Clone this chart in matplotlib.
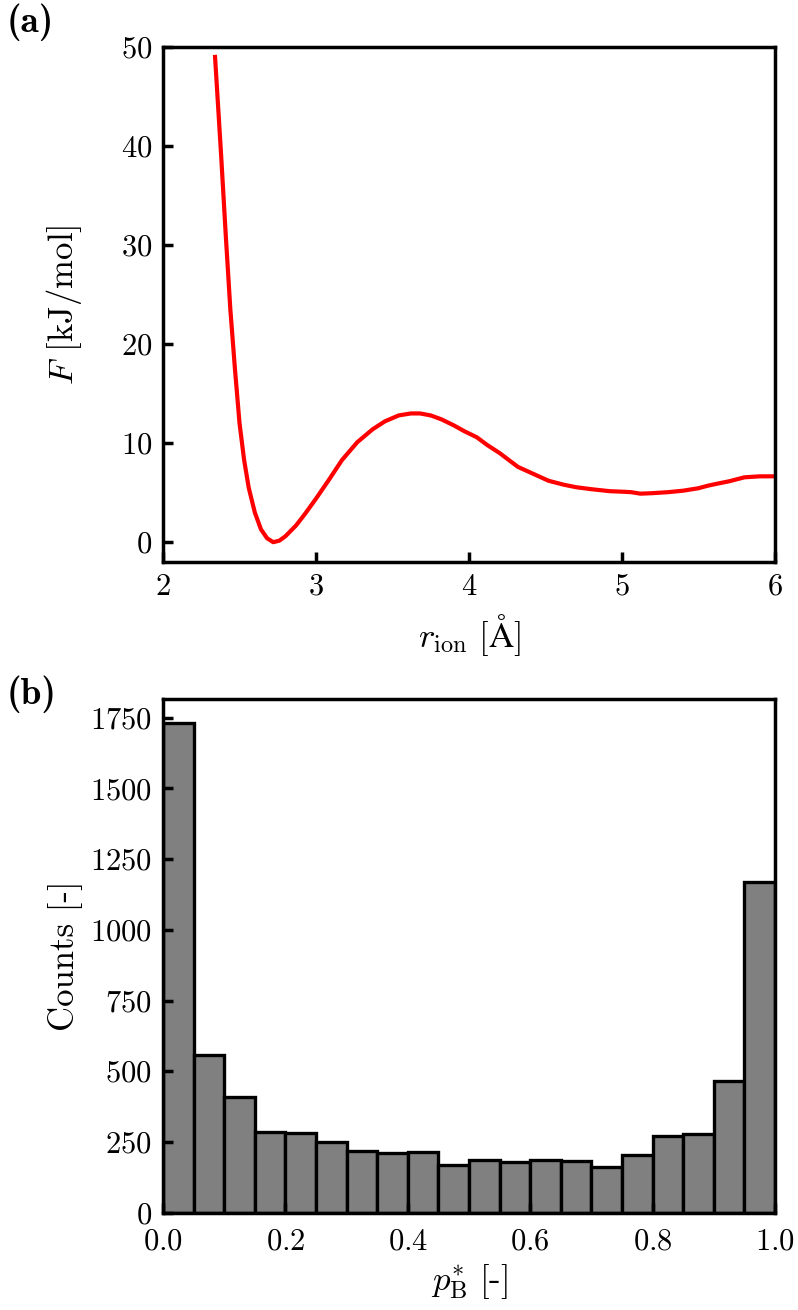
import matplotlib
matplotlib.use("Agg")
import matplotlib.pyplot as plt
import numpy as np

# free energy profile (panel a)
r_ion = [2.34, 2.36, 2.38, 2.41, 2.44, 2.47, 2.50, 2.53, 2.56, 2.60, 2.64, 2.68,
         2.72, 2.76, 2.80, 2.87, 2.93, 3.00, 3.08, 3.17, 3.27, 3.37, 3.45, 3.54,
         3.62, 3.68, 3.75, 3.82, 3.90, 3.97, 4.05, 4.12, 4.20, 4.32, 4.42, 4.52,
         4.62, 4.70, 4.80, 4.92, 5.00, 5.06, 5.12, 5.20, 5.30, 5.40, 5.50, 5.56,
         5.62, 5.70, 5.80, 5.90, 6.00]
free_energy = [49.0, 44.0, 39.0, 31.0, 23.5, 17.5, 12.0, 8.3, 5.5, 3.0, 1.3, 0.4,
               0.0, 0.15, 0.6, 1.7, 2.9, 4.4, 6.2, 8.3, 10.1, 11.4, 12.2, 12.8,
               13.0, 13.0, 12.8, 12.4, 11.8, 11.2, 10.6, 9.8, 9.0, 7.6, 6.9, 6.2,
               5.8, 5.55, 5.35, 5.15, 5.1, 5.05, 4.9, 4.95, 5.05, 5.2, 5.45, 5.7,
               5.9, 6.15, 6.55, 6.65, 6.65]

# committor histogram (panel b)
bin_edges = np.linspace(0.0, 1.0, 21)
counts = [1730, 558, 410, 285, 280, 250, 216, 212, 215, 168,
          186, 180, 185, 184, 160, 203, 272, 278, 467, 1170]

plt.rcParams['font.family'] = 'serif'
plt.rcParams['font.serif'] = ['cmr10']
plt.rcParams['mathtext.fontset'] = 'cm'
plt.rcParams['axes.formatter.use_mathtext'] = True
plt.rcParams['axes.unicode_minus'] = False

fig = plt.figure(figsize=(7.98, 13.10), dpi=100)
ax1 = fig.add_axes([0.2043, 0.571, 0.7669, 0.3931])
ax2 = fig.add_axes([0.2043, 0.0744, 0.7669, 0.392])

lw = 2.5
for ax in (ax1, ax2):
    for s in ax.spines.values():
        s.set_linewidth(lw)
    ax.tick_params(direction='in', length=7.5, width=lw, labelsize=22, pad=8)
ax2.tick_params(axis='x', pad=11)

ax1.plot(r_ion, free_energy, color='red', lw=3.0)
ax1.set_xlim(2, 6)
ax1.set_ylim(-2, 50)
ax1.set_xticks([2, 3, 4, 5, 6])
ax1.set_yticks([0, 10, 20, 30, 40, 50])
ax1.set_xlabel(r'$r_{\mathrm{ion}}\ [\mathrm{\AA}]$', fontsize=25, labelpad=8)
ax1.set_ylabel(r'$F$ [kJ/mol]', fontsize=25, labelpad=26)

centers = (bin_edges[:-1] + bin_edges[1:]) / 2
ax2.hist(centers, bins=bin_edges, weights=counts, color='#808080',
         edgecolor='black', linewidth=2.4)
ax2.set_xlim(0, 1)
ax2.set_xticks([0.0, 0.2, 0.4, 0.6, 0.8, 1.0])
ax2.set_yticks([0, 250, 500, 750, 1000, 1250, 1500, 1750])
ax2.set_xlabel(r'$p_{\mathrm{B}}^{*}\ [\text{-}]$', fontsize=25, labelpad=5)
ax2.set_ylabel('Counts [-]', fontsize=25, labelpad=5)

fig.text(0.008, 0.997, '(a)', family='cmb10', fontsize=27, va='top')
fig.text(0.008, 0.484, '(b)', family='cmb10', fontsize=27, va='top')

fig.savefig('out.png', dpi=100)
